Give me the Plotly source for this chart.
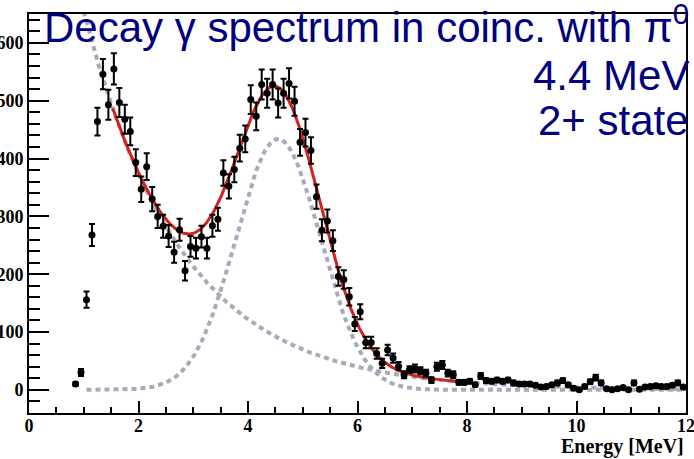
import numpy as np
import plotly.graph_objects as go

# Photon energy bin centres [MeV] and counts per bin
energy = [0.85, 0.95, 1.05, 1.15, 1.25, 1.35, 1.45, 1.55, 1.65, 1.75,
          1.85, 1.95, 2.05, 2.15, 2.25, 2.35, 2.45, 2.55, 2.65, 2.75,
          2.85, 2.95, 3.05, 3.15, 3.25, 3.35, 3.45, 3.55, 3.65, 3.75,
          3.85, 3.95, 4.05, 4.15, 4.25, 4.35, 4.45, 4.55, 4.65, 4.75,
          4.85, 4.95, 5.05, 5.15, 5.25, 5.35, 5.45, 5.55, 5.65, 5.75,
          5.85, 5.95, 6.05, 6.15, 6.25, 6.35, 6.45, 6.55, 6.65, 6.75,
          6.85, 6.95, 7.05, 7.15, 7.25, 7.35, 7.45, 7.55, 7.65, 7.75,
          7.85, 7.95, 8.05, 8.15, 8.25, 8.35, 8.45, 8.55, 8.65, 8.75,
          8.85, 8.95, 9.05, 9.15, 9.25, 9.35, 9.45, 9.55, 9.65, 9.75,
          9.85, 9.95, 10.05, 10.15, 10.25, 10.35, 10.45, 10.55, 10.65, 10.75,
          10.85, 10.95, 11.05, 11.15, 11.25, 11.35, 11.45, 11.55, 11.65, 11.75,
          11.85, 11.95]

counts = [10, 30, 156, 268, 464, 546, 493, 555, 497, 468,
          447, 393, 347, 386, 330, 300, 283, 266, 238, 277,
          206, 248, 245, 265, 245, 284, 295, 375, 352, 381,
          418, 434, 502, 473, 528, 513, 528, 496, 513, 530,
          499, 428, 445, 414, 334, 276, 292, 258, 196, 191,
          161, 114, 135, 82, 82, 63, 46, 69, 55, 41,
          26, 35, 37, 33, 29, 17, 40, 43, 29, 26,
          13, 13, 15, 9, 24, 16, 15, 17, 15, 17,
          12, 10, 10, 10, 8, 5, 6, 9, 12, 16,
          9, 3, 0, 6, 14, 21, 12, 2, 0, 2,
          4, 0, 12, 1, 5, 6, 7, 6, 6, 8,
          12, 5]

errors = [3, 6, 14, 19, 24, 26, 26, 27, 25, 25,
          24, 23, 22, 23, 21, 20, 20, 19, 18, 19,
          17, 18, 18, 19, 18, 19, 20, 22, 21, 22,
          23, 23, 25, 24, 26, 25, 26, 25, 25, 26,
          25, 23, 24, 23, 21, 19, 20, 18, 16, 16,
          15, 12, 13, 10, 10, 9, 8, 9, 8, 7,
          6, 6, 7, 6, 6, 5, 7, 7, 6, 6,
          4, 4, 4, 3, 5, 4, 4, 4, 4, 4,
          4, 3, 3, 3, 3, 2, 3, 3, 4, 4,
          3, 2, 1, 3, 4, 5, 4, 2, 1, 2,
          2, 1, 4, 1, 2, 3, 3, 3, 3, 3,
          4, 2]

# Fit components: Gaussian peak (2+ state) and exponential background
peak_amp, peak_mean, peak_sigma = 434.0, 4.55, 0.77
bkg_amp, bkg_ref, bkg_slope = 605.0, 1.14, 0.56
comp_range = (1.0, 12.0)
peak_start = 1.05
fit_range = (1.53, 7.93)


def gauss(e):
    return peak_amp * np.exp(-0.5 * ((e - peak_mean) / peak_sigma) ** 2)


def bkg(e):
    return bkg_amp * np.exp(-bkg_slope * (e - bkg_ref))


e_comp = np.linspace(comp_range[0], comp_range[1], 600)
e_peak = np.linspace(peak_start, comp_range[1], 600)
e_fit = np.linspace(fit_range[0], fit_range[1], 400)

grey = "#a9a9bb"
dotted = "5px,4px"

fig = go.Figure()

fig.add_trace(go.Scatter(x=e_comp, y=bkg(e_comp), mode="lines",
                         line=dict(color=grey, width=4, dash=dotted),
                         hoverinfo="skip", showlegend=False))
fig.add_trace(go.Scatter(x=e_peak, y=gauss(e_peak), mode="lines",
                         line=dict(color=grey, width=4, dash=dotted),
                         hoverinfo="skip", showlegend=False))
fig.add_trace(go.Scatter(x=e_fit, y=gauss(e_fit) + bkg(e_fit), mode="lines",
                         line=dict(color="#d42020", width=3),
                         hoverinfo="skip", showlegend=False))
fig.add_trace(go.Scatter(x=energy, y=counts, mode="markers",
                         marker=dict(color="black", size=7),
                         error_y=dict(type="data", array=errors, color="black",
                                      thickness=2, width=3),
                         showlegend=False))

tick_font = dict(family="Liberation Serif", size=18, color="black", weight="bold")

fig.update_xaxes(range=[0, 12], dtick=2, tick0=0, ticks="inside", ticklen=12,
                 tickwidth=2, tickcolor="black", showline=True, linecolor="black",
                 linewidth=2, mirror=True, showgrid=False, zeroline=False,
                 tickfont=tick_font, automargin=False, ticklabeloverflow="allow",
                 ticklabelstandoff=-5,
                 minor=dict(dtick=0.5, ticks="inside", ticklen=6, tickwidth=2,
                            tickcolor="black", showgrid=False))
fig.update_yaxes(range=[-40, 650], dtick=100, tick0=0, ticks="inside", ticklen=20,
                 tickwidth=2, tickcolor="black", showline=True, linecolor="black",
                 linewidth=2, mirror=True, showgrid=False, zeroline=False,
                 tickfont=tick_font, automargin=False, ticklabeloverflow="allow",
                 minor=dict(dtick=20, ticks="inside", ticklen=11, tickwidth=2,
                            tickcolor="black", showgrid=False))

navy = "#000080"
label_font = dict(family="Liberation Sans", size=42, color=navy)
for text, ypos in [("Decay \u03b3 spectrum in coinc. with \u03c0<sup>0</sup>", 0.975),
                   ("4.4 MeV", 0.846),
                   ("2+ state", 0.733)]:
    fig.add_annotation(text=text, xref="paper", yref="paper", x=1.007, y=ypos,
                       xanchor="right", yanchor="middle", showarrow=False,
                       font=label_font)

fig.add_annotation(text="Energy [MeV]", xref="paper", yref="paper", x=1.0, y=-0.085,
                   xanchor="right", yanchor="middle", showarrow=False,
                   font=dict(family="Liberation Serif", size=20, color="black",
                             weight="bold"))

fig.update_layout(width=694, height=459,
                  margin=dict(l=29, r=8, t=14, b=46),
                  paper_bgcolor="white", plot_bgcolor="white")

fig.write_html("out.html")
